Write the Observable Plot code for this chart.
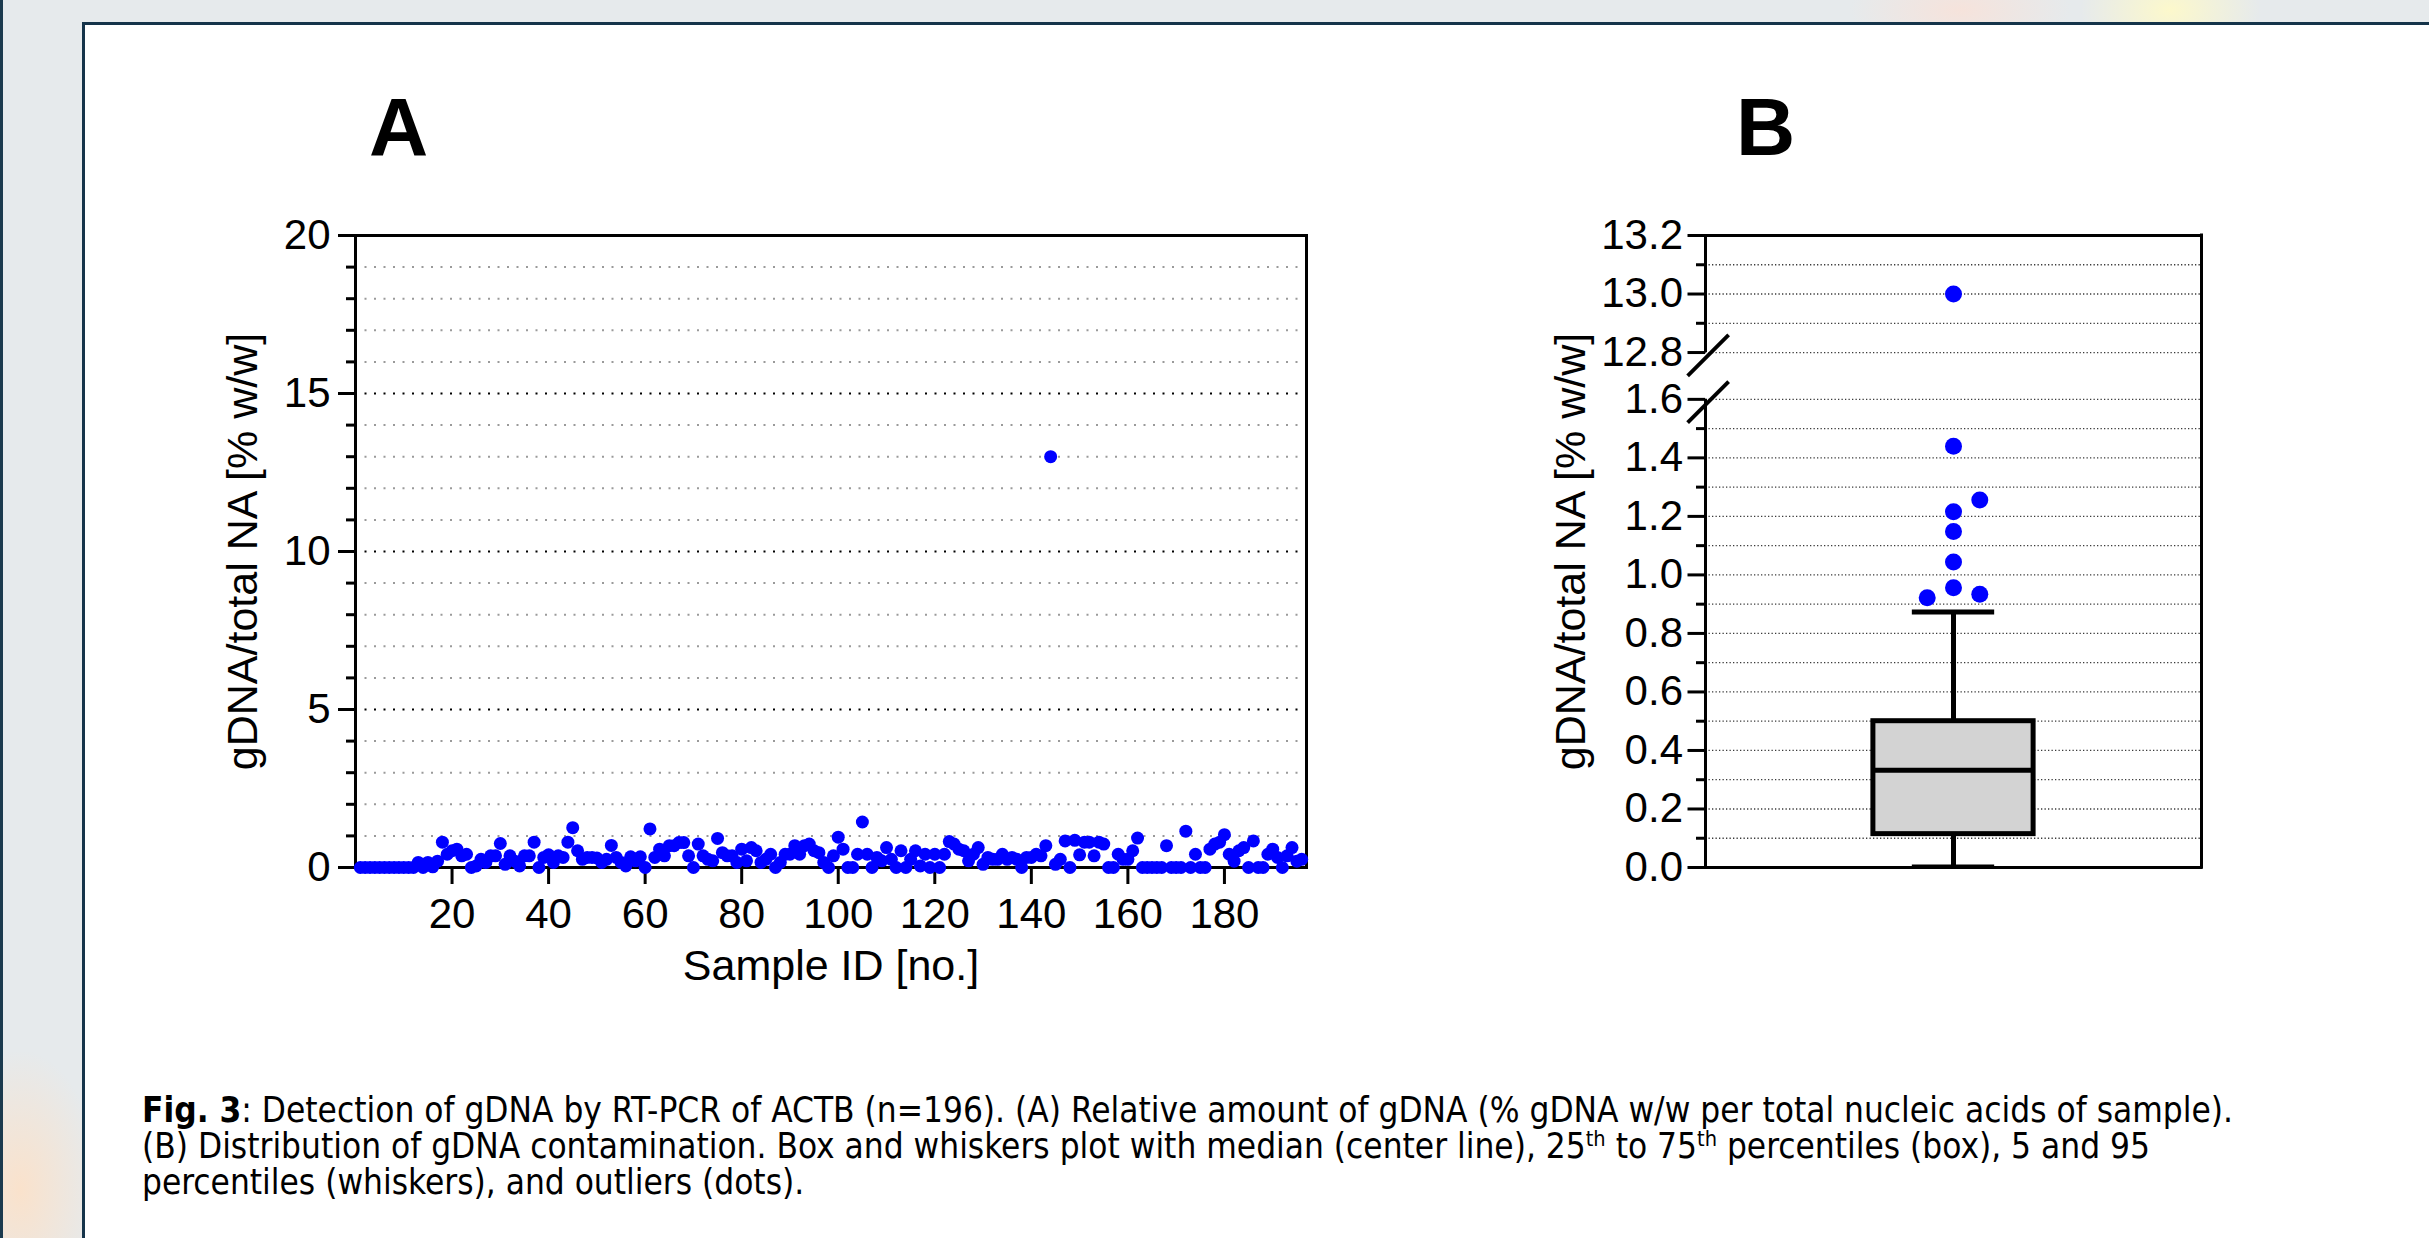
<!DOCTYPE html>
<html>
<head>
<meta charset="utf-8">
<script src="https://cdn.jsdelivr.net/npm/d3@7"></script>
<script src="https://cdn.jsdelivr.net/npm/@observablehq/plot@0.6"></script>
<style>
  html, body { margin: 0; padding: 0; }
  body { width: 2429px; height: 1238px; position: relative; overflow: hidden;
         background:
           radial-gradient(ellipse 90px 60px at 2170px 10px, rgba(255,250,200,0.9), rgba(255,250,200,0) 100%),
           radial-gradient(ellipse 110px 50px at 1960px 10px, rgba(250,225,215,0.8), rgba(250,225,215,0) 100%),
           radial-gradient(ellipse 80px 140px at 20px 1190px, rgba(252,225,200,0.9), rgba(252,225,200,0) 100%),
           #e6eaec;
         font-family: "Liberation Sans", Arial, sans-serif; }
  #edge { position: absolute; left: 0; top: 0; width: 3px; height: 1238px; background: #1b3a4e; }
  #panel { position: absolute; left: 82px; top: 22px; width: 2400px; height: 1300px; background: #fff;
           border-left: 3px solid #15344a; border-top: 3px solid #15344a; }
  .plabel { position: absolute; font-weight: bold; font-size: 82px; line-height: 82px; color: #000; }
  .chart { position: absolute; }
  .chart svg { overflow: visible; }
  #caption { position: absolute; left: 142px; top: 1092px; color: #000;
             font-family: "Liberation Sans Narrow", "DejaVu Sans Condensed", "Liberation Sans", sans-serif; font-size: 30px; }
  #caption div { white-space: nowrap; height: 36px; line-height: 36px; }
  #caption sup { font-size: 62%; line-height: 0; vertical-align: baseline; position: relative; top: -0.55em; }
</style>
</head>
<body>
<div id="edge"></div>
<div id="panel"></div>
<div class="plabel" style="left:369px;top:86px;">A</div>
<div class="plabel" style="left:1736px;top:86px;">B</div>
<div id="chartA" class="chart"></div>
<div id="chartB" class="chart"></div>
<div id="caption">
  <div id="cap1"><b>Fig. 3</b>: Detection of gDNA by RT-PCR of ACTB (n=196). (A) Relative amount of gDNA (% gDNA w/w per total nucleic acids of sample).</div>
  <div id="cap2">(B) Distribution of gDNA contamination. Box and whiskers plot with median (center line), 25<sup>th</sup> to 75<sup>th</sup> percentiles (box), 5 and 95</div>
  <div id="cap3">percentiles (whiskers), and outliers (dots).</div>
</div>
<script>
// ---------------- DATA ----------------
// Panel A: gDNA / total NA [% w/w] for samples 1..196
const gdnaPercent = [
  0, 0, 0, 0, 0, 0, 0, 0, 0, 0, 0, 0,
  0.16, 0.0, 0.16, 0.02, 0.2, 0.8, 0.42, 0.53, 0.58, 0.37, 0.42, 0.0, 0.05, 0.26, 0.16, 0.37, 0.37, 0.76,
  0.1, 0.37, 0.2, 0.05, 0.37, 0.37, 0.8, 0.0, 0.32, 0.4, 0.16, 0.37, 0.32, 0.8, 1.26, 0.53, 0.26, 0.32, 0.32,
  0.3, 0.16, 0.26, 0.7, 0.32, 0.16, 0.05, 0.34, 0.21, 0.34, 0.0, 1.22, 0.32, 0.58, 0.37, 0.69, 0.69, 0.79, 0.79, 0.37,
  0.0, 0.74, 0.37, 0.26, 0.21, 0.92, 0.47, 0.37, 0.37, 0.16, 0.58, 0.21, 0.63, 0.53, 0.16, 0.26, 0.42, 0.0, 0.16, 0.42,
  0.42, 0.69, 0.42, 0.69, 0.74, 0.53, 0.47, 0.16, 0.0, 0.37, 0.96,
  0.58, 0, 0, 0.42, 1.44, 0.42, 0, 0.32, 0.21, 0.63, 0.26, 0, 0.53, 0, 0.26, 0.53, 0.05, 0.42, 0, 0.42,
  0, 0.42, 0.82, 0.74, 0.58, 0.53, 0.21, 0.42, 0.63, 0.1, 0.32, 0.26, 0.26, 0.42, 0.26, 0.32, 0.26, 0, 0.32, 0.32,
  0.42, 0.37, 0.69, 13.0, 0.1, 0.26, 0.84, 0, 0.86, 0.4,
  0.8, 0.8, 0.37, 0.8, 0.74, 0, 0, 0.42, 0.26, 0.26, 0.53, 0.93, 0, 0, 0, 0, 0, 0.69, 0, 0,
  0, 1.15, 0, 0.42, 0, 0, 0.58, 0.74, 0.8, 1.04, 0.42, 0.2, 0.53, 0.63, 0, 0.84, 0, 0, 0.42, 0.58,
  0.32, 0, 0.37, 0.63, 0.2, 0.26
];
const xTicksA = [20, 40, 60, 80, 100, 120, 140, 160, 180];
const yTicksA = [0, 5, 10, 15, 20];
const yMinorA = [1, 2, 3, 4, 6, 7, 8, 9, 11, 12, 13, 14, 16, 17, 18, 19];
const xDomainA = [0, 197];
const yDomainA = [0, 20];
const yTitle = "gDNA/total NA [% w/w]";
const xTitleA = "Sample ID [no.]";

// Panel B: box & whiskers (5th, 25th, median, 75th, 95th percentiles) and outliers
const boxP5 = [0.005];
const boxQ1 = [0.114];
const boxMedian = [0.332];
const boxQ3 = [0.50];
const boxP95 = [0.873];
const outlierValues = [13.0, 1.44, 1.256, 1.216, 1.148, 1.044, 0.956, 0.934, 0.922];
const outlierColumn = [0, 0, 1, 0, 0, 0, 0, 1, -1];   // side-by-side placement of touching dots
const yTicksB = [0, 0.2, 0.4, 0.6, 0.8, 1.0, 1.2, 1.4, 1.6, 12.8, 13.0, 13.2];
const yMinorB = [0.1, 0.3, 0.5, 0.7, 0.9, 1.1, 1.3, 1.5, 12.9, 13.1];
const yGridB = [0.1, 0.2, 0.3, 0.4, 0.5, 0.6, 0.7, 0.8, 0.9, 1.0, 1.1, 1.2, 1.3, 1.4, 1.5, 1.6, 12.8, 12.9, 13.0, 13.1];
const axisBreak = [1.6, 12.8];        // lower segment top, upper segment bottom
const axisSegmentsB = [{from: 0, to: 1.6}, {from: 12.8, to: 13.2}];
const yRangeB = [0, 13.2];

// ---------------- PANEL A ----------------
const fontA = "Liberation Sans, Arial, sans-serif";
const pointsA = gdnaPercent.map((v, i) => ({id: i + 1, value: v}));
const mA = {l: 150, r: 20, t: 20, b: 150};
const frameA = {w: 951, h: 632};
const plotA = Plot.plot({
  width: mA.l + frameA.w + mA.r,
  height: mA.t + frameA.h + mA.b,
  marginLeft: mA.l, marginRight: mA.r, marginTop: mA.t, marginBottom: mA.b,
  style: {fontFamily: fontA, fontSize: "42px", color: "#000", background: "transparent", overflow: "visible"},
  x: {domain: xDomainA},
  y: {domain: yDomainA},
  marks: [
    Plot.gridY(yMinorA, {stroke: "#9a9a9a", strokeOpacity: 1, strokeWidth: 2, strokeDasharray: "2,7.5"}),
    Plot.gridY(yTicksA.slice(1, -1), {stroke: "#000", strokeOpacity: 1, strokeWidth: 2, strokeDasharray: "2,7.5"}),
    Plot.axisY({ticks: yMinorA, tickSize: 9, text: null, strokeWidth: 3, label: null}),
    Plot.axisY({ticks: yTicksA, tickSize: 17, tickPadding: 8, strokeWidth: 3, fontSize: 42, label: null}),
    Plot.axisX({ticks: xTicksA, tickSize: 17, tickPadding: 14, strokeWidth: 3, fontSize: 42, label: null}),
    Plot.text([yTitle], {frameAnchor: "left", textAnchor: "middle", rotate: -90, dx: -112, fontSize: 43}),
    Plot.text([xTitleA], {frameAnchor: "bottom", textAnchor: "middle", dy: 112, fontSize: 43}),
    Plot.frame({stroke: "#000", strokeWidth: 3}),
    Plot.dot(pointsA, {x: "id", y: "value", r: 6.5, fill: "#0000ff", stroke: "none"})
  ]
});
const elA = document.getElementById("chartA");
elA.style.left = (355 - mA.l) + "px";
elA.style.top = (235 - mA.t) + "px";
elA.style.width = (mA.l + frameA.w + mA.r) + "px";
elA.appendChild(plotA);

// ---------------- PANEL B ----------------
const gapB = 0.16;  // visual gap of the broken axis, in axis units
const breakTransform = v => v >= axisBreak[1] ? v - axisBreak[1] + axisBreak[0] + gapB : v;
const breakInverse = t => t > axisBreak[0] + gapB / 2 ? t - axisBreak[0] - gapB + axisBreak[1] : t;
const boxRows = boxP5.map((p5, i) => ({p5, q1: boxQ1[i], median: boxMedian[i], q3: boxQ3[i], p95: boxP95[i]}));
const outliers = outlierValues.map((v, i) => ({value: v, column: outlierColumn[i]}));
const xDomainB = [-1, 1];
const boxHalf = 0.323, capHalf = 0.166, colStep = 0.106;
const mB = {l: 220, r: 20, t: 20, b: 40};
const frameB = {w: 496, h: 632};
const plotB = Plot.plot({
  width: mB.l + frameB.w + mB.r,
  height: mB.t + frameB.h + mB.b,
  marginLeft: mB.l, marginRight: mB.r, marginTop: mB.t, marginBottom: mB.b,
  style: {fontFamily: fontA, fontSize: "42px", color: "#000", background: "transparent", overflow: "visible"},
  x: {domain: xDomainB, axis: null},
  y: {domain: yRangeB.map(breakTransform), transform: breakTransform, axis: null},
  marks: [
    Plot.gridY(yGridB, {stroke: "#3a3a3a", strokeOpacity: 1, strokeWidth: 1.3, strokeDasharray: "1.3,2.2"}),
    Plot.axisY({ticks: yMinorB.map(breakTransform), tickSize: 9, text: null, strokeWidth: 3, label: null}),
    Plot.axisY({ticks: yTicksB.map(breakTransform), tickSize: 17.5, tickPadding: 5, strokeWidth: 3, fontSize: 42, label: null,
                tickFormat: t => breakInverse(t).toFixed(1)}),
    // frame: top, bottom, right, and the broken left axis
    Plot.ruleY([yRangeB[1]], {stroke: "#000", strokeWidth: 3, strokeLinecap: "square"}),
    Plot.ruleY([yRangeB[0]], {stroke: "#000", strokeWidth: 3, strokeLinecap: "square"}),
    Plot.ruleX([xDomainB[1]], {y1: yRangeB[0], y2: yRangeB[1], stroke: "#000", strokeWidth: 3, strokeLinecap: "square"}),
    Plot.ruleX(axisSegmentsB, {x: xDomainB[0], y1: "from", y2: "to", stroke: "#000", strokeWidth: 3}),
    Plot.text(axisBreak, {x: xDomainB[0], y: d => d, text: () => "\u2014", rotate: -45, fontSize: 58, fill: "#000"}),
    Plot.text([yTitle], {frameAnchor: "left", textAnchor: "middle", rotate: -90, dx: -134, fontSize: 43}),
    // box and whiskers
    Plot.ruleX(boxRows, {x: 0, y1: "p5", y2: "q1", stroke: "#000", strokeWidth: 5}),
    Plot.ruleX(boxRows, {x: 0, y1: "q3", y2: "p95", stroke: "#000", strokeWidth: 5}),
    Plot.rect(boxRows, {x1: -boxHalf, x2: boxHalf, y1: "q1", y2: "q3", fill: "#d3d3d3", stroke: "#000", strokeWidth: 5}),
    Plot.ruleY(boxRows, {y: "median", x1: -boxHalf, x2: boxHalf, stroke: "#000", strokeWidth: 5}),
    Plot.ruleY(boxRows, {y: "p95", x1: -capHalf, x2: capHalf, stroke: "#000", strokeWidth: 5}),
    Plot.ruleY(boxRows, {y: "p5", x1: -capHalf, x2: capHalf, stroke: "#000", strokeWidth: 3}),
    Plot.dot(outliers, {x: d => d.column * colStep, y: "value", r: 8.5, fill: "#0000ff", stroke: "none"})
  ]
});
const elB = document.getElementById("chartB");
elB.style.left = (1705 - mB.l) + "px";
elB.style.top = (235 - mB.t) + "px";
elB.style.width = (mB.l + frameB.w + mB.r) + "px";
elB.appendChild(plotB);

// ---------------- CAPTION fitting ----------------
(function fitCaption() {
  const cap = document.getElementById("caption");
  const l1 = document.getElementById("cap1");
  const target = 2092;
  const w = l1.getBoundingClientRect().width;
  const fs = 30 * target / w;
  cap.style.fontSize = fs.toFixed(2) + "px";
})();
</script>
</body>
</html>
